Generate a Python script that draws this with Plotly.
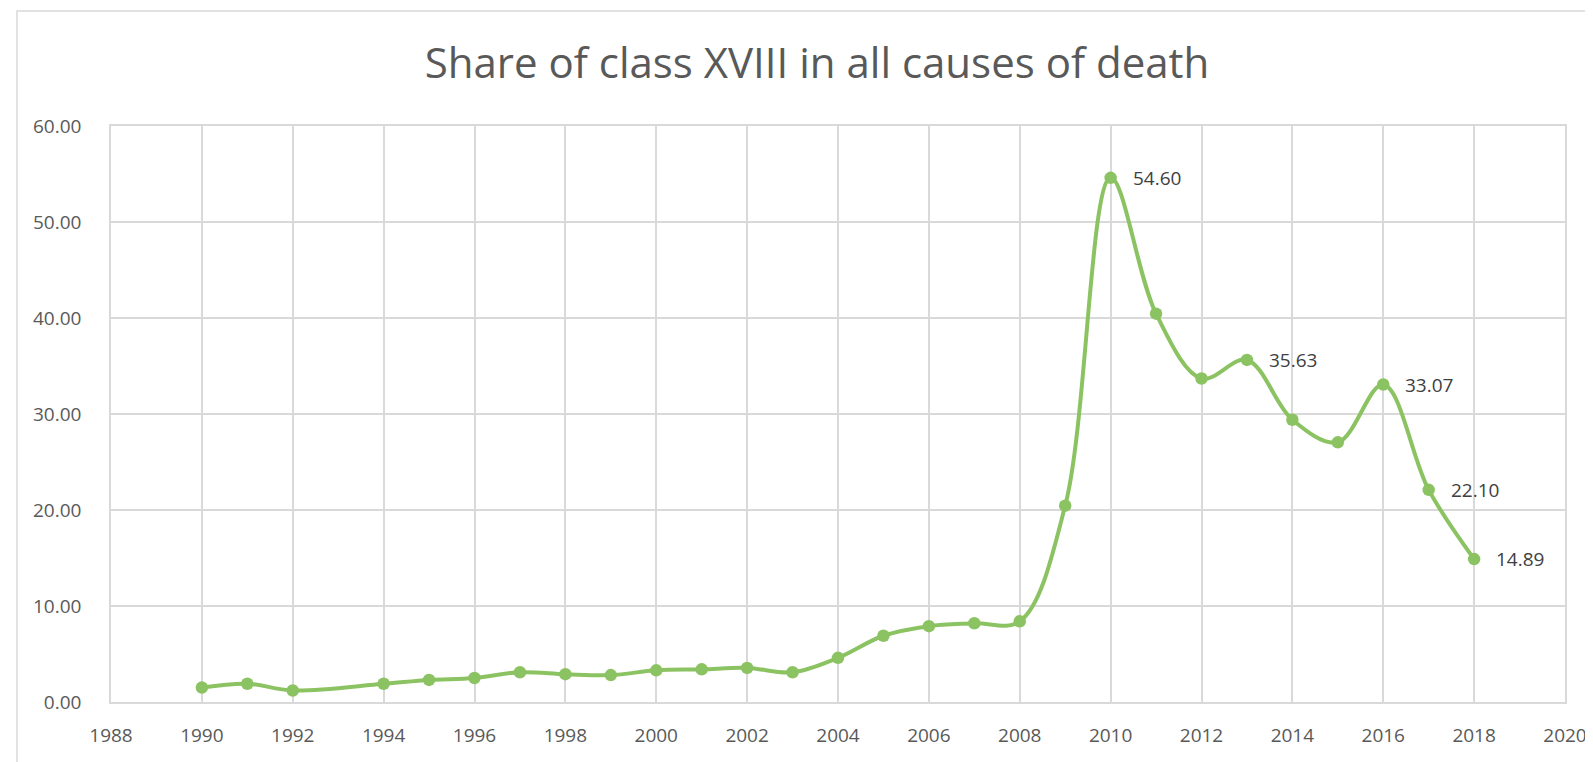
import plotly.graph_objects as go

years = [1990, 1991, 1992, 1994, 1995, 1996, 1997, 1998, 1999, 2000, 2001, 2002,
         2003, 2004, 2005, 2006, 2007, 2008, 2009, 2010, 2011, 2012, 2013, 2014,
         2015, 2016, 2017, 2018]
share = [1.5, 1.9, 1.2, 1.9, 2.3, 2.5, 3.1, 2.9, 2.8, 3.3, 3.4, 3.55,
         3.1, 4.6, 6.9, 7.9, 8.2, 8.4, 20.45, 54.60, 40.45, 33.7, 35.63, 29.4,
         27.05, 33.07, 22.10, 14.89]
labeled_years = [2010, 2013, 2016, 2017, 2018]
title_text = "Share of class XVIII in all causes of death"

GREEN = "#8cc362"
GRID = "#d9d9d9"
TXT = "#595959"
FONT = "Open Sans, Segoe UI, sans-serif"

# page body adds an 8px offset; compensate so the plot lands where the reference has it
OFF = 8
W, H = 1593, 762
L, T = 111 - OFF, 126 - OFF
pw, ph = 1565 - 111, 702 - 126
R = W - L - pw
B = H - T - ph

fig = go.Figure()
fig.add_trace(go.Scatter(
    x=years, y=share, mode="lines+markers",
    line=dict(color=GREEN, width=4, shape="spline", smoothing=1.0),
    marker=dict(color=GREEN, size=12.5),
    hoverinfo="x+y", showlegend=False,
))

for yr, v in zip(years, share):
    if yr in labeled_years:
        fig.add_annotation(x=yr, y=v, text=f"{v:.2f}", showarrow=False,
                           xanchor="left", yanchor="middle", xshift=20,
                           font=dict(family=FONT, size=19, color="#404040"))

def px_x(p):
    # p is a target screen x in the reference
    return (p - OFF - L) / pw

def px_y(p):
    return 1 - (p - OFF - T) / ph

# outer chart frame
fig.add_shape(type="rect", xref="paper", yref="paper",
              x0=px_x(17), x1=px_x(1640), y0=px_y(800), y1=px_y(11),
              line=dict(color=GRID, width=1.5), layer="below")

fig.update_layout(
    width=W, height=H,
    margin=dict(l=L, r=R, t=T, b=B),
    paper_bgcolor="white", plot_bgcolor="white",
    title=dict(text=title_text, x=(817 - OFF) / W, xanchor="center",
               y=1 - (63 - OFF) / H, yanchor="middle",
               font=dict(family=FONT, size=42, color=TXT)),
    font=dict(family=FONT, color=TXT),
)
fig.update_xaxes(range=[1988, 2020], dtick=2, tick0=1988, showgrid=True,
                 gridcolor=GRID, gridwidth=1.5, showline=True, linecolor=GRID,
                 linewidth=1.5, mirror=True, zeroline=False, ticks="",
                 ticklabelstandoff=15,
                 tickfont=dict(family=FONT, size=19, color=TXT))
fig.update_yaxes(range=[0, 60], dtick=10, tickformat=".2f", showgrid=True,
                 gridcolor=GRID, gridwidth=1.5, showline=True, linecolor=GRID,
                 linewidth=1.5, mirror=True, zeroline=False, ticks="",
                 ticklabelstandoff=24,
                 tickfont=dict(family=FONT, size=19, color=TXT))

fig.write_html("out.html")
